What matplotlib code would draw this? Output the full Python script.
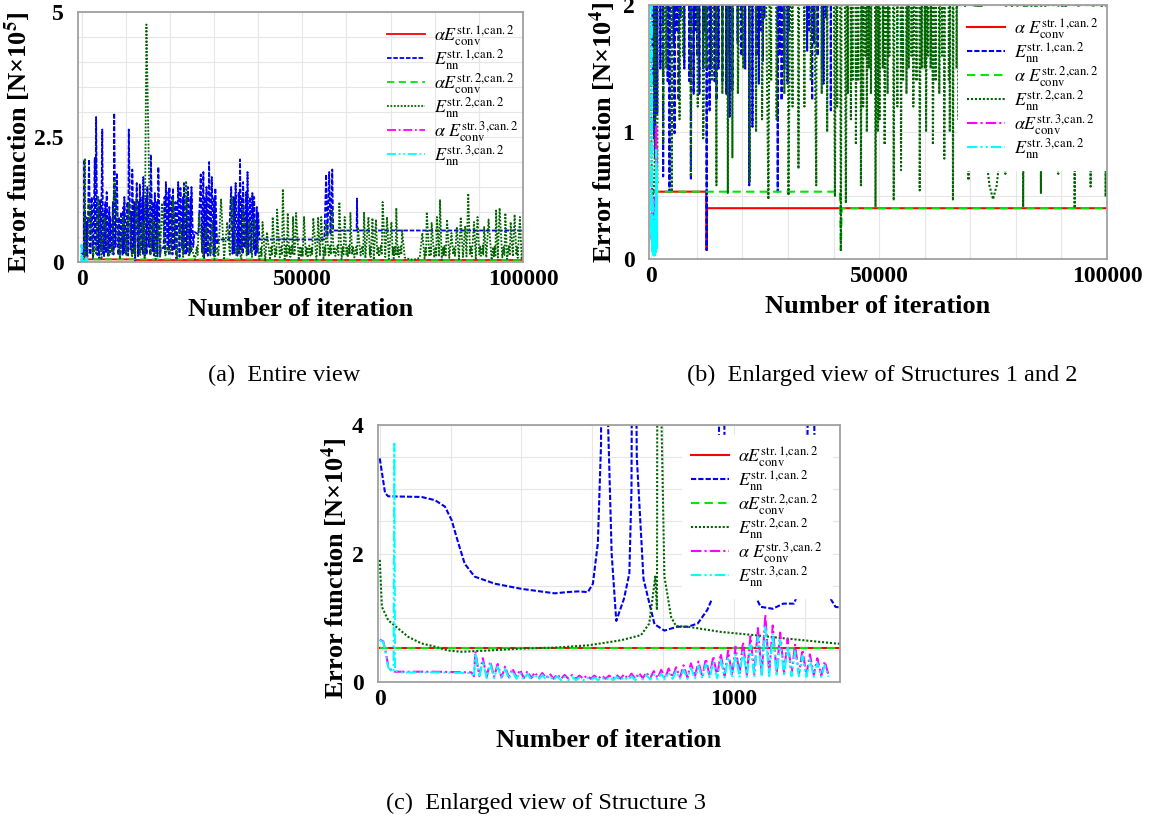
import numpy as np
import matplotlib
matplotlib.use("Agg")
import matplotlib.pyplot as plt
from matplotlib.ticker import MultipleLocator

plt.rcParams['mathtext.fontset'] = 'stix'
plt.rcParams['font.family'] = ['Liberation Serif', 'DejaVu Serif']

# error function values in N x 10^4, x = iteration number

# first ~1300 iterations
nn1_early_x = [0, 15, 24, 118, 156, 184, 203, 222, 240, 268,
               325, 400, 494, 531, 560, 588, 602, 616, 625, 632,
               645, 655, 668, 690, 705, 711, 716, 726, 745, 776,
               804, 840, 870, 898, 925, 949, 957, 963, 975, 1000,
               1043, 1076, 1110, 1140, 1170, 1189, 1206, 1217, 1230, 1259,
               1287, 1310]
nn1_early_y = [3.48, 2.94, 2.89, 2.88, 2.83, 2.73, 2.52, 2.16, 1.84, 1.64,
               1.53, 1.45, 1.38, 1.40, 1.41, 1.40, 1.53, 2.16, 3.70, 20.5,
               4.00, 2.00, 0.95, 1.30, 1.69, 3.00, 10.0, 3.50, 1.60, 0.90,
               0.80, 0.86, 0.86, 0.91, 1.12, 1.43, 2.60, 9.00, 3.20, 2.00,
               1.53, 1.17, 1.14, 1.22, 1.22, 1.48, 2.80, 8.00, 3.00, 1.43,
               1.17, 1.15]

nn2_early_x = [0, 6, 24, 81, 118, 156, 193, 231, 306, 400,
               494, 588, 682, 738, 761, 771, 778, 783, 788, 796,
               804, 823, 837, 870, 963, 1057, 1151, 1287, 1320]
nn2_early_y = [1.90, 1.17, 0.96, 0.70, 0.60, 0.55, 0.49, 0.47, 0.49, 0.52,
               0.535, 0.57, 0.65, 0.73, 0.91, 1.32, 1.64, 1.12, 20.8, 4.0,
               1.64, 1.01, 0.87, 0.86, 0.78, 0.73, 0.675, 0.60, 0.59]

nn3_early_x = [0, 10, 17, 24, 34, 39, 41, 43, 60, 150, 259, 266]
nn3_early_y = [0.65, 0.62, 0.44, 0.23, 0.16, 0.16, 3.71, 0.18, 0.15, 0.15, 0.14, 0.08]
conv3_early_x = [0, 10, 17, 24, 34, 43, 60, 150, 259, 266]
conv3_early_y = [0.66, 0.63, 0.46, 0.25, 0.17, 0.16, 0.16, 0.16, 0.15, 0.09]

# oscillation of structure 3 (peaks and troughs)
osc_peak_x = [270, 291, 312, 333, 354, 375, 396, 417, 438, 459,
              480, 501, 522, 543, 564, 585, 606, 627, 648, 669,
              690, 711, 732, 753, 774, 795, 816, 837, 858, 879,
              900, 921, 942, 963, 984, 1005, 1026, 1047, 1068, 1089,
              1110, 1131, 1152, 1173, 1194, 1215, 1236, 1257]
osc_trough_x = [281, 302, 323, 344, 365, 386, 407, 428, 449, 470,
                491, 512, 533, 554, 575, 596, 617, 638, 659, 680,
                701, 722, 743, 764, 785, 806, 827, 848, 869, 890,
                911, 932, 953, 974, 995, 1016, 1037, 1058, 1079, 1100,
                1121, 1142, 1163, 1184, 1205, 1226, 1247, 1268]
cyan_peak = [0.45, 0.33, 0.28, 0.24, 0.20, 0.17, 0.15, 0.13, 0.12, 0.11,
             0.10, 0.09, 0.08, 0.08, 0.07, 0.07, 0.07, 0.07, 0.07, 0.08,
             0.08, 0.09, 0.10, 0.11, 0.12, 0.13, 0.15, 0.17, 0.19, 0.22,
             0.25, 0.28, 0.31, 0.35, 0.39, 0.44, 0.50, 0.58, 0.70, 0.86,
             0.76, 0.65, 0.56, 0.48, 0.41, 0.35, 0.30, 0.26]
cyan_trough = [0.07, 0.06, 0.06, 0.05, 0.05, 0.05, 0.04, 0.04, 0.04, 0.04,
               0.03, 0.03, 0.03, 0.03, 0.03, 0.03, 0.03, 0.03, 0.03, 0.03,
               0.03, 0.03, 0.04, 0.04, 0.04, 0.04, 0.05, 0.05, 0.05, 0.05,
               0.06, 0.06, 0.06, 0.07, 0.07, 0.07, 0.08, 0.08, 0.08, 0.09,
               0.09, 0.09, 0.09, 0.09, 0.08, 0.08, 0.08, 0.08]
mag_peak = [0.48, 0.37, 0.32, 0.28, 0.24, 0.21, 0.19, 0.17, 0.15, 0.14,
            0.13, 0.12, 0.11, 0.11, 0.10, 0.10, 0.10, 0.10, 0.10, 0.11,
            0.12, 0.13, 0.14, 0.15, 0.17, 0.19, 0.21, 0.23, 0.26, 0.29,
            0.32, 0.36, 0.40, 0.44, 0.49, 0.55, 0.62, 0.71, 0.84, 1.05,
            0.88, 0.77, 0.67, 0.58, 0.50, 0.43, 0.37, 0.32]
mag_trough = [0.09, 0.08, 0.08, 0.07, 0.07, 0.07, 0.06, 0.06, 0.06, 0.06,
              0.05, 0.05, 0.05, 0.05, 0.05, 0.05, 0.05, 0.05, 0.05, 0.05,
              0.05, 0.05, 0.06, 0.06, 0.06, 0.06, 0.07, 0.07, 0.07, 0.08,
              0.08, 0.09, 0.09, 0.10, 0.10, 0.11, 0.11, 0.12, 0.12, 0.13,
              0.13, 0.13, 0.12, 0.12, 0.11, 0.11, 0.10, 0.10]

# rest of the run, (iteration, value): peaks from panel a, troughs from panel b
nn1_late = [(1700, 20.5), (2000, 1.5), (2300, 13.0), (2600, 0.65), (3000, 20.8),
            (3150, 3.5), (3300, 29.0), (3600, 1.4), (3800, 11.0), (4000, 0.53),
            (4200, 12.5), (4400, 2.5), (4700, 26.5), (4900, 1.7), (5000, 10.0),
            (5100, 0.99), (5400, 12.0), (5550, 1.8), (5700, 14.0), (6000, 1.25),
            (6300, 11.0), (6400, 1.9), (6500, 9.0), (6900, 2.2), (7100, 12.0),
            (7250, 1.5), (7400, 29.8), (7700, 3.0), (8000, 17.8), (8350, 1.4),
            (8500, 9.0), (8700, 0.62), (9000, 10.0), (9300, 1.3), (9500, 11.0),
            (9600, 1.8), (9700, 13.0), (10100, 1.6), (10400, 12.0), (10550, 1.3),
            (10700, 26.5), (11100, 2.5), (11300, 10.0), (11400, 1.5), (11500, 18.5),
            (11800, 1.8), (12000, 12.0), (12150, 0.07), (12500, 15.8), (12800, 1.17),
            (13000, 12.0), (13100, 1.5), (13200, 15.5), (13600, 2.5), (13800, 13.0),
            (13900, 1.4), (14000, 17.0), (14300, 1.25), (14600, 13.0), (14750, 1.5),
            (14900, 15.0), (15300, 3.0), (15500, 14.0), (15600, 1.4), (15700, 21.5),
            (16100, 2.2), (16300, 12.0), (16450, 1.3), (16600, 13.8), (17000, 1.6),
            (17100, 12.0), (17200, 1.12), (17400, 19.0), (17800, 1.33), (18000, 2.8),
            (18600, 2.8), (18800, 13.0), (18950, 1.7), (19100, 16.0), (19500, 2.5),
            (19700, 14.0), (19800, 1.6), (19900, 15.0), (20300, 3.0), (20500, 13.0),
            (20600, 1.5), (20700, 14.8), (21100, 2.4), (21300, 12.0), (21500, 0.58),
            (21900, 16.0), (22200, 1.04), (22400, 14.8), (22800, 2.6), (23000, 13.0),
            (23100, 1.6), (23200, 15.8), (23600, 1.38), (23800, 13.0), (23950, 1.8),
            (24100, 15.0), (24500, 1.56), (24700, 13.0), (24800, 1.9), (24900, 15.0),
            (25300, 3.0), (25600, 6.0), (26500, 5.5), (27000, 17.5), (27300, 2.0),
            (27600, 18.0), (27750, 0.53), (28000, 13.0), (28150, 1.6), (28300, 15.0),
            (28600, 1.25), (28900, 20.0), (29200, 1.5), (29500, 17.0), (29900, 1.38),
            (30100, 13.0), (30200, 1.8), (30300, 14.8), (30700, 3.5), (31000, 4.5),
            (33400, 4.5), (33900, 15.0), (34200, 1.64), (34500, 13.0), (34650, 1.8),
            (34900, 15.8), (35300, 1.25), (35600, 14.0), (35750, 1.7), (35900, 20.5),
            (36200, 2.5), (36400, 13.0), (36500, 1.6), (36600, 16.0), (37000, 2.8),
            (37300, 14.0), (37450, 1.5), (37600, 18.0), (37800, 1.38), (38200, 13.0),
            (38400, 1.9), (38700, 13.8), (39000, 2.5), (39100, 13.0), (39400, 1.17),
            (39700, 11.0), (39850, 2.0), (40000, 10.0), (40300, 4.5), (55000, 4.5),
            (55400, 17.5), (55700, 5.0), (56100, 18.0), (56400, 5.5), (56800, 18.5),
            (57000, 6.3), (62300, 6.3), (62400, 12.7), (62500, 6.3), (100000, 6.3)]

nn2_late = [(1800, 12.0), (2600, 0.9), (3000, 3.0), (3300, 1.5), (3800, 13.0),
            (4500, 0.53), (5200, 9.0), (6200, 1.1), (6700, 3.2), (7000, 1.6),
            (7400, 16.5), (8700, 0.65), (9500, 9.0), (10200, 1.2), (10700, 11.8),
            (11400, 0.95), (11900, 3.0), (12100, 1.5), (12400, 12.5), (13300, 1.4),
            (13800, 8.0), (14300, 0.58), (14700, 47.5), (15600, 1.3), (16200, 9.0),
            (16800, 0.52), (17400, 8.0), (17800, 0.8), (18200, 11.8), (19000, 1.3),
            (19600, 3.0), (20200, 1.5), (20700, 12.5), (21600, 0.61), (22300, 8.0),
            (23000, 1.0), (23700, 16.2), (24300, 1.1), (24900, 3.0), (25700, 0.47),
            (26100, 3.0), (26300, 1.4), (26600, 9.8), (27500, 1.1), (28200, 7.0),
            (29200, 1.3), (29600, 8.0), (30100, 0.5), (30700, 3.0), (31000, 1.2),
            (31600, 12.5), (32300, 0.71), (33000, 8.0), (33600, 1.2), (34100, 13.0),
            (35000, 1.4), (35500, 3.0), (36200, 0.58), (36600, 11.0), (37400, 1.3),
            (38000, 8.0), (38600, 1.0), (39100, 8.5), (40300, 0.49), (40600, 3.0),
            (40800, 1.2), (41000, 8.0), (41600, 0.07), (42000, 6.0), (42700, 0.44),
            (43000, 3.2), (43150, 1.3), (43300, 9.0), (43800, 1.1), (44000, 2.8),
            (44150, 1.4), (44300, 10.5), (44900, 0.9), (45200, 3.0), (45400, 1.4),
            (45600, 14.6), (46000, 0.58), (46300, 3.2), (46500, 1.2), (46700, 9.8),
            (47000, 1.6), (47150, 2.9), (47300, 1.0), (47600, 3.4), (47750, 1.5),
            (47900, 9.0), (48200, 1.3), (48400, 3.0), (48600, 9.8), (49200, 0.41),
            (49500, 3.1), (49700, 1.0), (49950, 2.8), (50100, 1.1), (50400, 9.0),
            (50800, 1.5), (51000, 3.0), (51200, 0.9), (51600, 3.3), (51850, 1.3),
            (52100, 2.9), (52250, 1.6), (52500, 8.8), (53200, 0.46), (53400, 3.0),
            (53600, 9.0), (54000, 1.2), (54300, 9.0), (54800, 0.7), (55100, 3.1),
            (55250, 1.4), (55400, 7.8), (56000, 1.3), (56300, 3.2), (56500, 1.5),
            (56700, 10.5), (57100, 1.6), (57300, 3.0), (57500, 1.2), (58000, 3.3),
            (58200, 1.4), (58400, 12.0), (58900, 0.54), (59200, 3.0), (59350, 1.5),
            (59600, 9.0), (60000, 1.5), (60150, 2.9), (60300, 1.0), (60600, 3.2),
            (60750, 1.6), (60900, 9.8), (61300, 1.5), (61500, 3.1), (61800, 0.9),
            (62200, 3.0), (62400, 1.4), (62600, 7.0), (63200, 1.3), (63600, 3.2),
            (63800, 1.6), (64000, 10.0), (64300, 0.79), (65000, 9.0), (65300, 1.4),
            (65400, 3.0), (65500, 1.0), (65900, 8.8), (66200, 0.46), (66700, 8.5),
            (67000, 1.5), (67200, 3.0), (67400, 1.1), (67800, 3.3), (68000, 1.4),
            (68200, 12.0), (68800, 1.0), (69200, 9.0), (69600, 0.62), (70200, 8.0),
            (70500, 1.4), (70600, 3.0), (70700, 0.71), (71000, 3.2), (71150, 1.3),
            (71300, 10.8), (71600, 1.5), (71750, 3.0), (71900, 1.0), (72300, 3.1),
            (72450, 1.5), (72600, 6.5), (73200, 0.9), (74200, 0.58), (75000, 0.47),
            (75800, 0.58), (76600, 0.85), (77200, 5.8), (77700, 0.67), (77950, 3.0),
            (78050, 1.4), (78200, 10.0), (78800, 1.1), (79050, 3.2), (79150, 1.5),
            (79300, 7.8), (79900, 0.9), (80200, 3.0), (80350, 1.3), (80500, 9.0),
            (81000, 1.1), (81200, 12.5), (81600, 0.41), (81900, 3.0), (82050, 1.2),
            (82200, 3.2), (82500, 1.3), (82800, 8.5), (83300, 0.8), (83800, 5.8),
            (84200, 1.5), (84400, 3.0), (84600, 1.2), (85000, 7.0), (85500, 0.52),
            (85900, 9.0), (86400, 1.0), (86900, 7.2), (87200, 1.1), (87600, 13.7),
            (88000, 1.6), (88200, 3.0), (88400, 1.1), (88900, 8.0), (89300, 0.67),
            (89700, 9.0), (90100, 1.5), (90300, 3.1), (90500, 1.2), (90900, 3.3),
            (91000, 1.5), (91200, 7.0), (91700, 0.9), (92200, 8.5), (92900, 0.40),
            (93200, 3.0), (93400, 1.1), (93600, 3.2), (93750, 1.3), (93900, 10.3),
            (94300, 0.9), (94700, 10.8), (95300, 0.9), (95600, 3.0), (95800, 1.4),
            (96000, 9.8), (96400, 0.57), (96800, 3.2), (97000, 1.3), (97200, 8.0),
            (97700, 1.1), (98100, 9.5), (98500, 1.4), (98650, 3.0), (98800, 0.8),
            (99300, 9.0), (99700, 0.49), (100000, 4.0)]

conv1_x = [0, 12050, 12150, 12250, 100000]
conv1_y = [0.53, 0.53, 0.07, 0.40, 0.40]
conv2_x = [0, 41400, 41600, 41800, 100000]
conv2_y = [0.53, 0.53, 0.07, 0.40, 0.40]

labels_ac = [r'$\alpha E^{\mathrm{str.1{,}can.2}}_{\mathrm{conv}}$',
             r'$E^{\mathrm{str.1{,}can.2}}_{\mathrm{nn}}$',
             r'$\alpha E^{\mathrm{str.2{,}can.2}}_{\mathrm{conv}}$',
             r'$E^{\mathrm{str.2{,}can.2}}_{\mathrm{nn}}$',
             r'$\alpha\ E^{\mathrm{str.3{,}can.2}}_{\mathrm{conv}}$',
             r'$E^{\mathrm{str.3{,}can.2}}_{\mathrm{nn}}$']
labels_b = [r'$\alpha\ E^{\mathrm{str.1{,}can.2}}_{\mathrm{conv}}$',
            r'$E^{\mathrm{str.1{,}can.2}}_{\mathrm{nn}}$',
            r'$\alpha\ E^{\mathrm{str.2{,}can.2}}_{\mathrm{conv}}$',
            r'$E^{\mathrm{str.2{,}can.2}}_{\mathrm{nn}}$',
            r'$\alpha E^{\mathrm{str.3{,}can.2}}_{\mathrm{conv}}$',
            r'$E^{\mathrm{str.3{,}can.2}}_{\mathrm{nn}}$']

# assemble series
late1 = np.array(nn1_late).T
late2 = np.array(nn2_late).T
nn1_x = np.concatenate([nn1_early_x, late1[0]])
nn1_y = np.concatenate([nn1_early_y, late1[1]])
nn2_x = np.concatenate([nn2_early_x, late2[0]])
nn2_y = np.concatenate([nn2_early_y, late2[1]])
osc_x = np.column_stack([osc_peak_x, osc_trough_x]).ravel()
nn3_x = np.concatenate([nn3_early_x, osc_x])
nn3_y = np.concatenate([nn3_early_y, np.column_stack([cyan_peak, cyan_trough]).ravel()])
conv3_x = np.concatenate([conv3_early_x, osc_x])
conv3_y = np.concatenate([conv3_early_y, np.column_stack([mag_peak, mag_trough]).ravel()])

W, H = 1158, 824
fig = plt.figure(figsize=(W / 100, H / 100), dpi=100)
ax_a = fig.add_axes([78 / W, 1 - 262 / H, 445 / W, 250 / H])
ax_b = fig.add_axes([649 / W, 1 - 259 / H, 458 / W, 254 / H])
ax_c = fig.add_axes([378 / W, 1 - 682 / H, 462 / W, 257 / H])

leg_kw = dict(prop={'size': 13}, handlelength=2.05, handletextpad=0.55,
              labelspacing=-0.04, borderpad=0.5, borderaxespad=0.1)


def draw(ax, scale, lw, labels):
    ax.plot(conv1_x, np.array(conv1_y) * scale, color='red', lw=lw, label=labels[0])
    ax.plot(nn1_x, nn1_y * scale, color='#0000ee', lw=lw, ls=(0, (2.5, 1)), label=labels[1])
    ax.plot(conv2_x, np.array(conv2_y) * scale, color='#00e600', lw=lw, ls=(0, (4, 2.5)), label=labels[2])
    ax.plot(nn2_x, nn2_y * scale, color='#006400', lw=lw, ls=(0, (1, 0.9)), label=labels[3])
    ax.plot(conv3_x, conv3_y * scale, color='#ff00ff', lw=lw, ls=(0, (5, 1.5, 1, 1.5)), label=labels[4])
    ax.plot(nn3_x, nn3_y * scale, color='#00ffff', lw=lw, ls=(0, (5, 1.5, 1, 1.5, 1, 1.5)), label=labels[5])


def style(ax, xt, xtl, yt, ytl, xminor, yminor, ylabel, ylab_x, ylab_y, xlpad):
    ax.set_xticks(xt, xtl, fontsize=17, fontweight='bold')
    ax.set_yticks(yt, ytl, fontsize=17, fontweight='bold')
    ax.xaxis.set_minor_locator(MultipleLocator(xminor))
    ax.yaxis.set_minor_locator(MultipleLocator(yminor))
    ax.grid(True, which='both', color='#e6e6e6', lw=0.8)
    ax.set_axisbelow(True)
    ax.tick_params(which='both', length=0)
    ax.tick_params(axis='x', pad=5)
    ax.tick_params(axis='y', pad=10.5)
    for sp in ax.spines.values():
        sp.set_color('#a0a0a0')
        sp.set_linewidth(1.3)
        sp.set_zorder(6)
    ax.set_xlabel('Number of iteration', fontsize=19, fontweight='bold', labelpad=xlpad)
    ax.set_ylabel(ylabel, fontsize=19, fontweight='bold')
    ax.yaxis.set_label_coords(ylab_x, ylab_y)


# (a) entire view, N x 10^5
draw(ax_a, 0.1, 1.3, labels_ac)
ax_a.set_xlim(-800, 100000)
ax_a.set_ylim(0, 5)
style(ax_a, [0, 50000, 100000], ['0', '50000', '100000'], [0, 2.5, 5], ['0', '2.5', '5'],
      10000, 0.5, r'Error function [N×10$^{\mathbf{5}}$]', -0.1, 0.48, 6)
ax_a.legend(loc='upper right', bbox_to_anchor=(1 + 7 / 445, 1), frameon=False, **leg_kw)

# (b) structures 1 and 2, N x 10^4
draw(ax_b, 1.0, 1.5, labels_b)
ax_b.set_xlim(-500, 100000)
ax_b.set_ylim(0, 2)
style(ax_b, [0, 50000, 100000], ['0', '50000', '100000'], [0, 1, 2], ['0', '1', '2'],
      10000, 0.5, r'Error function [N×10$^{\mathbf{4}}$]', -0.068, 0.5, 6)
ax_b.legend(loc='upper right', bbox_to_anchor=(1 + 3 / 458, 1), frameon=True,
            fancybox=False, framealpha=1, edgecolor='white', **leg_kw)

# (c) structure 3, N x 10^4
draw(ax_c, 1.0, 1.5, labels_ac)
ax_c.set_xlim(-5, 1300)
ax_c.set_ylim(0, 4)
style(ax_c, [0, 1000], ['0', '1000'], [0, 2, 4], ['0', '2', '4'],
      200, 0.5, r'Error function [N×10$^{\mathbf{4}}$]', -0.06, 0.445, 14)
ax_c.legend(loc='upper right', bbox_to_anchor=(1 - 6 / 462, 1 - 8 / 257), frameon=True,
            fancybox=False, framealpha=1, edgecolor='white', **leg_kw)

fig.text(284 / W, 1 - 375 / H, '(a)  Entire view', ha='center', va='center', fontsize=17.5)
fig.text(882 / W, 1 - 375 / H, '(b)  Enlarged view of Structures 1 and 2', ha='center',
         va='center', fontsize=17.5)
fig.text(546 / W, 1 - 803 / H, '(c)  Enlarged view of Structure 3', ha='center',
         va='center', fontsize=17.5)

fig.savefig('out.png', dpi=100)
